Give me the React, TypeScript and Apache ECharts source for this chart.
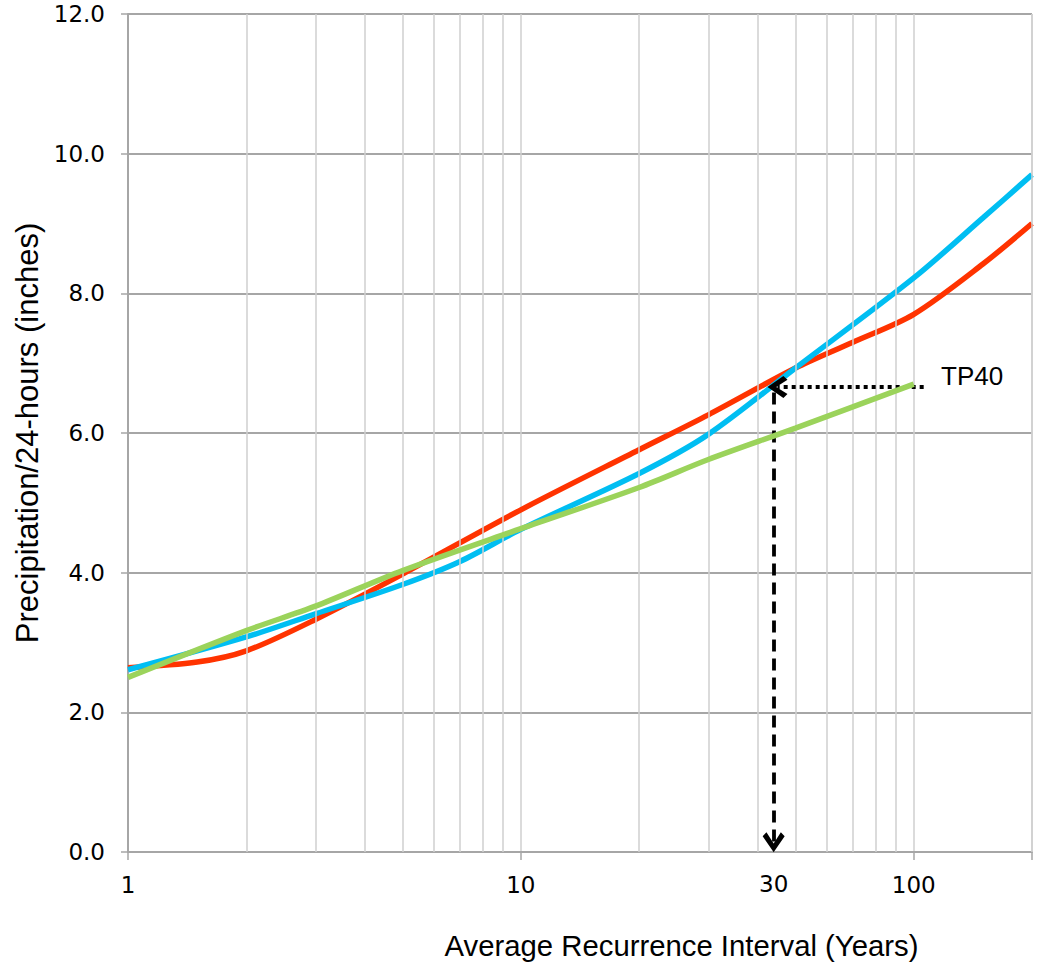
import React, { useEffect, useRef } from "react";
import * as echarts from "echarts";

// Average recurrence interval (years) and 24-hour precipitation (inches)
const redX = [1, 1.5, 2, 3, 5, 10, 20, 30, 50, 70, 100, 150, 200];
const redY = [2.64, 2.72, 2.88, 3.33, 3.98, 4.9, 5.76, 6.26, 6.93, 7.3, 7.7, 8.42, 9.0];

const blueX = [1, 2, 3, 5, 7, 10, 20, 30, 50, 100, 150, 200];
const blueY = [2.61, 3.08, 3.41, 3.83, 4.16, 4.62, 5.42, 5.98, 6.93, 8.22, 9.08, 9.7];

const greenX = [1, 2, 3, 5, 10, 20, 30, 50, 100];
const greenY = [2.5, 3.17, 3.52, 4.03, 4.63, 5.22, 5.62, 6.07, 6.7];

// axis ticks
const xTickLabels = [1, 10, 100];
const minorGridX = [2, 3, 4, 5, 6, 7, 8, 9, 20, 30, 40, 50, 60, 70, 80, 90, 200];

// annotation (TP40 read-off)
const tp40Label = "TP40";
const tp40LabelAt = [117, 6.82];
const tp40Value = 6.66;
const tp40LineX = [106, 45];
const readOffX = 44;
const readOffY = [6.58, 0.14];
const readOffLabel = "30";

const chevron = "path://M11,0 L22,15.5 L18.2,19.5 L11,8.5 L3.8,19.5 L0,15.5 Z";

export default function App() {
  const ref = useRef<HTMLDivElement>(null);
  useEffect(() => {
    const chart = echarts.init(ref.current!, null, { renderer: "svg" });
    const pair = (xs: number[], ys: number[]) => xs.map((x, i) => [x, ys[i]]);
    const tickFont = { fontFamily: "DejaVu Sans", fontSize: 23, color: "#000" };
    const curve = { type: "line", smooth: 0.3, symbol: "none" };
    chart.setOption({
      animation: false,
      backgroundColor: "#fff",
      grid: { left: 128, right: 6, top: 14, bottom: 113, containLabel: false },
      xAxis: {
        type: "log",
        logBase: 10,
        min: 1,
        max: 200,
        axisLine: { show: true, onZero: false, lineStyle: { color: "#a6a6a6", width: 2 } },
        axisTick: { show: true, length: 8, lineStyle: { color: "#a6a6a6", width: 1.5 } },
        axisLabel: {
          ...tickFont,
          margin: 21,
          formatter: (v: number) => (xTickLabels.includes(Math.round(v)) ? String(Math.round(v)) : ""),
        },
        splitLine: { show: true, lineStyle: { color: "#cfcfcf", width: 1.5 } },
        name: "Average Recurrence Interval (Years)",
        nameLocation: "middle",
        nameGap: 79,
        nameTextStyle: { fontFamily: "Liberation Sans", fontSize: 29.3, color: "#000", padding: [0, 0, 0, 203] },
      },
      yAxis: {
        type: "value",
        min: 0,
        max: 12,
        interval: 2,
        axisLine: { show: true, lineStyle: { color: "#a6a6a6", width: 2 } },
        axisTick: { show: true, length: 7, lineStyle: { color: "#a6a6a6", width: 1.5 } },
        axisLabel: { ...tickFont, margin: 23, formatter: (v: number) => v.toFixed(1) },
        splitLine: { show: true, lineStyle: { color: "#a6a6a6", width: 2 } },
        name: "Precipitation/24-hours (inches)",
        nameLocation: "middle",
        nameGap: 84,
        nameTextStyle: { fontFamily: "Liberation Sans", fontSize: 31, color: "#000" },
      },
      series: [
        {
          type: "line",
          data: [],
          z: 1,
          silent: true,
          markLine: {
            silent: true,
            animation: false,
            symbol: ["none", "none"],
            label: { show: false },
            lineStyle: { color: "#cfcfcf", width: 1.5, type: "solid" },
            emphasis: { disabled: true },
            data: minorGridX.map((x) => ({ xAxis: x })),
          },
        },
        { ...curve, name: "red", data: pair(redX, redY), lineStyle: { color: "#FF3300", width: 5.5 }, z: 3 },
        { ...curve, name: "blue", data: pair(blueX, blueY), lineStyle: { color: "#00BEF2", width: 5.5 }, z: 4 },
        { ...curve, name: "green", data: pair(greenX, greenY), lineStyle: { color: "#9BD35B", width: 5.5 }, z: 5 },
        {
          type: "line",
          data: [],
          z: 6,
          silent: true,
          markPoint: {
            silent: true,
            animation: false,
            symbol: "rect",
            symbolSize: 1,
            itemStyle: { color: "rgba(0,0,0,0)" },
            label: {
              show: true,
              position: "right",
              distance: 0,
              formatter: tp40Label,
              fontFamily: "Liberation Sans",
              fontSize: 26,
              color: "#000",
            },
            data: [{ coord: tp40LabelAt }],
          },
          markLine: {
            silent: true,
            animation: false,
            symbol: ["none", "none"],
            emphasis: { disabled: true },
            itemStyle: { color: "#000" },
            label: { show: false },
            data: [
              [
                {
                  coord: [tp40LineX[0], tp40Value],
                  symbol: "none",
                  lineStyle: { color: "#000", width: 3.8, type: [4, 4] },
                  label: { show: false },
                },
                { coord: [tp40LineX[1], tp40Value], symbol: chevron, symbolSize: [22, 20] },
              ],
              [
                {
                  coord: [readOffX, readOffY[0]],
                  symbol: "none",
                  lineStyle: { color: "#000", width: 3.8, type: [12, 7] },
                  label: {
                    show: true,
                    position: "end",
                    formatter: readOffLabel,
                    distance: 30,
                    ...tickFont,
                  },
                },
                { coord: [readOffX, readOffY[1]], symbol: chevron, symbolSize: [22, 20] },
              ],
            ],
          },
        },
      ],
    });
    return () => chart.dispose();
  }, []);
  return (
    <div
      ref={ref}
      style={{ position: "fixed", left: 0, top: 0, width: 1038, height: 965, background: "#fff" }}
    />
  );
}
